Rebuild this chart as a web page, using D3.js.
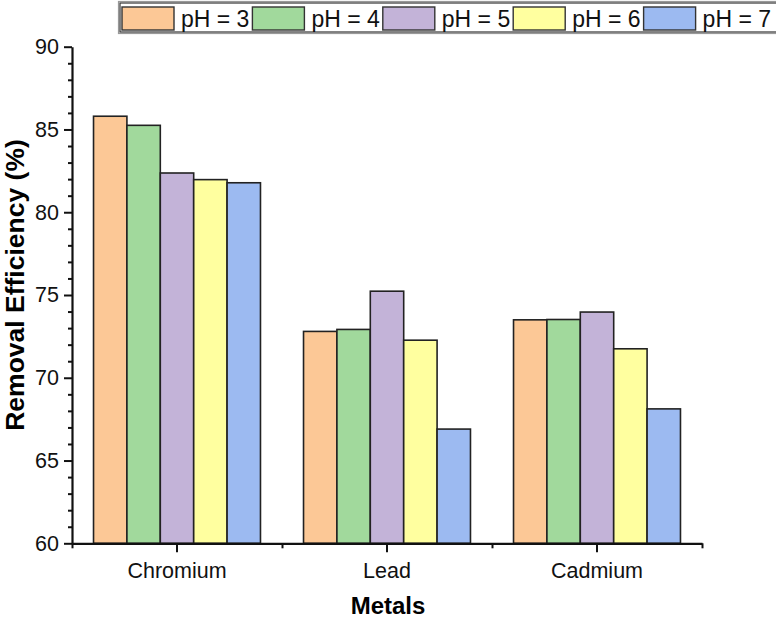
<!DOCTYPE html>
<html>
<head>
<meta charset="utf-8">
<script src="https://cdn.jsdelivr.net/npm/d3@7"></script>
<style>
  html, body { margin: 0; padding: 0; background: #fff; }
  svg { display: block; font-family: "Liberation Sans", Arial, sans-serif; }
</style>
</head>
<body>
<svg id="chart" width="776" height="624"></svg>
<script>
// ---- data ----
const categories = ["Chromium", "Lead", "Cadmium"];
const seriesNames = ["pH = 3", "pH = 4", "pH = 5", "pH = 6", "pH = 7"];
const ph3 = [85.8, 72.8, 73.5];
const ph4 = [85.25, 72.92, 73.52];
const ph5 = [82.37, 75.23, 73.97];
const ph6 = [81.97, 72.27, 71.75];
const ph7 = [81.78, 66.9, 68.12];
const seriesValues = [ph3, ph4, ph5, ph6, ph7];
const seriesColors = ["#FCC896", "#A1D99C", "#C3B3D8", "#FFFF9F", "#9CBAF1"];
const yTicks = [60, 65, 70, 75, 80, 85, 90];
const yMinorTicks = d3.range(60, 91, 1).filter(v => v % 5 !== 0);

(function () {
const svg = d3.select("#chart");
const FONT = "'Liberation Sans', Arial, sans-serif";

// ---- scales ----
const pLeft = 72, pRight = 702, pTop = 46.7, pBottom = 543.3;
const y = d3.scaleLinear().domain([60, 90]).range([pBottom, pTop]);
const x0 = d3.scaleBand().domain(categories).range([pLeft, pRight]).padding(0);
const bw = x0.bandwidth();
const x1 = d3.scaleBand().domain(seriesNames).range([bw * 0.1025, bw * 0.8975]).padding(0);
const xb = d3.scaleLinear().domain([0, categories.length]).range([pLeft, pRight]);

// ---- bars ----
const rows = categories.map((c, i) => ({ cat: c, vals: seriesNames.map((s, j) => ({ s, v: seriesValues[j][i], color: seriesColors[j] })) }));
const g = svg.append("g");
g.selectAll("g.cat").data(rows).join("g")
  .attr("class", "cat")
  .attr("transform", d => `translate(${x0(d.cat)},0)`)
  .selectAll("rect").data(d => d.vals).join("rect")
  .attr("x", d => x1(d.s))
  .attr("y", d => y(d.v))
  .attr("width", x1.bandwidth())
  .attr("height", d => y(60) - y(d.v))
  .attr("fill", d => d.color)
  .attr("stroke", "#222")
  .attr("stroke-width", 1.6);

// ---- axes ----
const yAxis = svg.append("g").attr("transform", `translate(${pLeft},0)`)
  .call(d3.axisLeft(y).tickValues(yTicks).tickSize(8).tickSizeOuter(0).tickPadding(5));
const yMinor = svg.append("g").attr("transform", `translate(${pLeft},0)`)
  .call(d3.axisLeft(y).tickValues(yMinorTicks).tickSize(4).tickFormat(""));
yMinor.select(".domain").remove();

const xAxis = svg.append("g").attr("transform", `translate(0,${pBottom})`)
  .call(d3.axisBottom(x0).tickSize(9).tickSizeOuter(0).tickPadding(10));
const xMinor = svg.append("g").attr("transform", `translate(0,${pBottom})`)
  .call(d3.axisBottom(xb).tickValues(d3.range(0, categories.length + 1)).tickSize(5).tickFormat(""));
xMinor.select(".domain").remove();

svg.selectAll("g").attr("font-family", FONT);
svg.selectAll(".domain").attr("stroke", "#111").attr("stroke-width", 2.2);
svg.selectAll(".tick line").attr("stroke", "#111").attr("stroke-width", 2);
yAxis.selectAll(".tick text").attr("font-size", 21.5).attr("fill", "#111");
xAxis.selectAll(".tick text").attr("font-size", 21.5).attr("fill", "#111");

// ---- axis titles ----
svg.append("text")
  .attr("x", (pLeft + pRight) / 2 + 1)
  .attr("y", 614)
  .attr("text-anchor", "middle")
  .attr("font-size", 24).attr("font-weight", "bold").attr("fill", "#000")
  .text("Metals");

svg.append("text")
  .attr("transform", `translate(24,285) rotate(-90)`)
  .attr("text-anchor", "middle")
  .attr("font-size", 26.5).attr("font-weight", "bold").attr("fill", "#000")
  .text("Removal Efficiency (%)");

// ---- legend ----
const lg = svg.append("g");
lg.append("rect").attr("x", 118.5).attr("y", 1.5).attr("width", 660).attr("height", 32)
  .attr("fill", "#fff").attr("stroke", "#999").attr("stroke-width", 1.2);
lg.append("rect").attr("x", 120).attr("y", 3).attr("width", 660).attr("height", 29)
  .attr("fill", "none").attr("stroke", "#333").attr("stroke-width", 1.2);
const items = lg.selectAll("g.item").data(seriesNames).join("g")
  .attr("class", "item")
  .attr("transform", (d, i) => `translate(${122 + i * 130.4},0)`);
items.append("rect").attr("x", 0).attr("y", 7).attr("width", 52).attr("height", 23)
  .attr("fill", (d, i) => seriesColors[i]).attr("stroke", "#333").attr("stroke-width", 1.4);
items.append("text").attr("x", 59).attr("y", 27)
  .attr("font-size", 23).attr("fill", "#111")
  .text(d => d);
})();
</script>
</body>
</html>
